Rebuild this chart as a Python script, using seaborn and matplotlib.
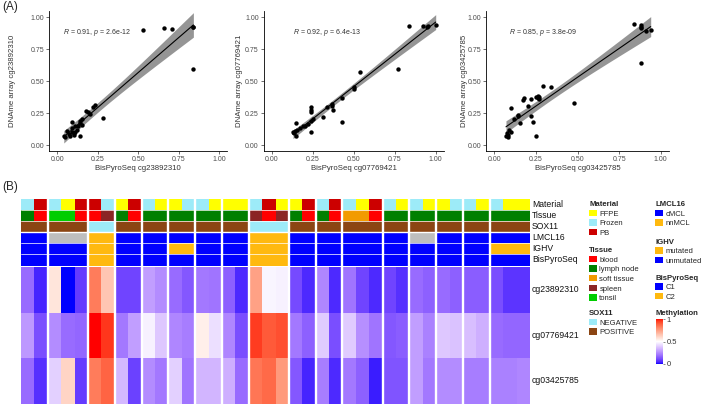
import numpy as np
import pandas as pd
import matplotlib
matplotlib.use("Agg")
import matplotlib.pyplot as plt
import seaborn as sns
from matplotlib.colors import ListedColormap
from matplotlib.patches import Patch

# ---------------- data: scatter panels (A) ----------------
bis_cg23892310 = [0.04, 0.05, 0.06, 0.07, 0.08, 0.09, 0.09, 0.09, 0.10, 0.10, 0.11, 0.11, 0.12, 0.13,
                  0.14, 0.14, 0.14, 0.15, 0.15, 0.18, 0.19, 0.20, 0.22, 0.23, 0.28, 0.53, 0.66, 0.71,
                  0.84, 0.84, 0.84]
arr_cg23892310 = [0.07, 0.06, 0.11, 0.085, 0.07, 0.18, 0.10, 0.135, 0.09, 0.08, 0.148, 0.10, 0.12, 0.15,
                  0.19, 0.17, 0.07, 0.16, 0.20, 0.265, 0.258, 0.24, 0.295, 0.31, 0.21, 0.90, 0.915, 0.905,
                  0.925, 0.918, 0.59]
bis_cg07769421 = [0.13, 0.135, 0.14, 0.15, 0.15, 0.155, 0.17, 0.19, 0.20, 0.22, 0.24, 0.24, 0.24, 0.25,
                  0.24, 0.24, 0.31, 0.335, 0.366, 0.368, 0.372, 0.427, 0.429, 0.50, 0.50, 0.54, 0.77,
                  0.84, 0.92, 0.945, 0.955, 1.00]
arr_cg07769421 = [0.10, 0.09, 0.11, 0.17, 0.07, 0.12, 0.13, 0.15, 0.145, 0.165, 0.30, 0.275, 0.26, 0.20,
                  0.185, 0.10, 0.22, 0.295, 0.32, 0.305, 0.27, 0.18, 0.37, 0.45, 0.44, 0.57, 0.59,
                  0.93, 0.93, 0.92, 0.93, 0.94]
bis_cg03425785 = [0.07, 0.075, 0.08, 0.085, 0.09, 0.10, 0.10, 0.12, 0.14, 0.145, 0.155, 0.17, 0.18,
                  0.20, 0.22, 0.22, 0.23, 0.25, 0.25, 0.26, 0.265, 0.27, 0.27, 0.29, 0.34, 0.48, 0.84,
                  0.88, 0.88, 0.88, 0.88, 0.91, 0.94]
arr_cg03425785 = [0.073, 0.09, 0.08, 0.065, 0.12, 0.10, 0.286, 0.2, 0.235, 0.23, 0.169, 0.354, 0.365,
                  0.305, 0.357, 0.225, 0.182, 0.07, 0.372, 0.365, 0.38, 0.357, 0.375, 0.461, 0.45,
                  0.331, 0.943, 0.94, 0.925, 0.914, 0.638, 0.893, 0.9]
probe_names = ["cg23892310", "cg07769421", "cg03425785"]
cor_R = ["0.91", "0.92", "0.85"]
cor_p = ["2.6e-12", "6.4e-13", "3.8e-09"]

# ---------------- data: heatmap (B) ----------------
group_sizes = [2, 3, 2, 2, 2, 2, 2, 2, 3, 2, 2, 3, 2, 2, 2, 2, 3]
material = ['Frozen', 'PB', 'Frozen', 'FFPE', 'PB', 'PB', 'Frozen', 'FFPE', 'PB', 'Frozen', 'FFPE',
            'FFPE', 'Frozen', 'Frozen', 'FFPE', 'FFPE', 'FFPE', 'Frozen', 'PB', 'FFPE', 'FFPE', 'PB',
            'Frozen', 'PB', 'Frozen', 'FFPE', 'PB', 'Frozen', 'FFPE', 'Frozen', 'FFPE', 'FFPE',
            'Frozen', 'Frozen', 'FFPE', 'Frozen', 'FFPE', 'FFPE']
tissue = ['lymph node', 'blood', 'tonsil', 'tonsil', 'blood', 'blood', 'spleen', 'lymph node', 'blood',
          'lymph node', 'lymph node', 'lymph node', 'lymph node', 'lymph node', 'lymph node',
          'lymph node', 'lymph node', 'spleen', 'blood', 'spleen', 'lymph node', 'blood',
          'lymph node', 'blood', 'soft tissue', 'soft tissue', 'blood'] + ['lymph node'] * 11
sox11 = ['POSITIVE'] * 5 + ['NEGATIVE'] * 2 + ['POSITIVE'] * 10 + ['NEGATIVE'] * 3 + ['POSITIVE'] * 18
lmcl16 = (['cMCL'] * 2 + ['NA'] * 3 + ['nnMCL'] * 2 + ['cMCL'] * 10 + ['nnMCL'] * 3 + ['cMCL'] * 9
          + ['NA'] * 2 + ['cMCL'] * 7)
ighv = (['unmutated'] * 5 + ['mutated'] * 2 + ['unmutated'] * 4 + ['mutated'] * 2 + ['unmutated'] * 4
        + ['mutated'] * 3 + ['unmutated'] * 15 + ['mutated'] * 3)
bispyro = ['C1'] * 5 + ['C2'] * 2 + ['C1'] * 10 + ['C2'] * 3 + ['C1'] * 18

meth_cg23892310 = [0.18, 0.04, 0.57, 0.00, 0.08, 0.83, 0.65, 0.10, 0.10, 0.29, 0.25, 0.18, 0.14, 0.21,
                   0.20, 0.16, 0.05, 0.74, 0.48, 0.47, 0.11, 0.05, 0.24, 0.05, 0.20, 0.10, 0.05, 0.10,
                   0.06, 0.18, 0.16, 0.18, 0.16, 0.15, 0.15, 0.12, 0.07, 0.07]
meth_cg07769421 = [0.28, 0.12, 0.25, 0.18, 0.17, 1.00, 0.96, 0.21, 0.29, 0.47, 0.38, 0.24, 0.22, 0.54,
                   0.43, 0.24, 0.12, 0.95, 0.90, 0.92, 0.21, 0.16, 0.39, 0.12, 0.39, 0.26, 0.20, 0.14,
                   0.15, 0.29, 0.23, 0.38, 0.37, 0.36, 0.33, 0.18, 0.17, 0.17]
meth_cg03425785 = [0.18, 0.06, 0.40, 0.61, 0.08, 0.83, 0.88, 0.35, 0.09, 0.25, 0.21, 0.40, 0.20, 0.34,
                   0.34, 0.33, 0.18, 0.84, 0.87, 0.76, 0.14, 0.04, 0.22, 0.05, 0.21, 0.16, 0.03, 0.13,
                   0.13, 0.29, 0.21, 0.25, 0.25, 0.22, 0.22, 0.23, 0.23, 0.24]

legend_levels = {
    'Material': ['FFPE', 'Frozen', 'PB'],
    'Tissue': ['blood', 'lymph node', 'soft tissue', 'spleen', 'tonsil'],
    'SOX11': ['NEGATIVE', 'POSITIVE'],
    'LMCL16': ['cMCL', 'nnMCL'],
    'IGHV': ['mutated', 'unmutated'],
    'BisPyroSeq': ['C1', 'C2'],
}
level_colors = {
    'Material': ['#FFFF00', '#9DEBF8', '#CC0000'],
    'Tissue': ['#FF0000', '#008000', '#F29B00', '#8B2525', '#00CD00'],
    'SOX11': ['#9DEBF8', '#8B4513'],
    'LMCL16': ['#0000FF', '#FFB90F'],
    'IGHV': ['#FFB90F', '#0000FF'],
    'BisPyroSeq': ['#0000FF', '#FFB90F'],
}
na_color = '#BEBEBE'

# ---------------- styling ----------------
sns.set_theme(style="ticks")
plt.rcParams['font.family'] = ['Liberation Sans', 'DejaVu Sans']
plt.rcParams['mathtext.fontset'] = 'custom'
plt.rcParams['mathtext.rm'] = 'Liberation Sans'
plt.rcParams['mathtext.it'] = 'Liberation Sans:italic'

W, H = 708, 407
fig = plt.figure(figsize=(W / 100, H / 100), dpi=100)


def px_axes(x0, y0, x1, y1):
    return fig.add_axes([x0 / W, 1 - y1 / H, (x1 - x0) / W, (y1 - y0) / H])


# t quantiles (0.975) for the linear-model confidence band
T975 = {29: 2.045, 30: 2.042, 31: 2.040}

# ---------------- (A) scatter panels ----------------
scatter_sets = [(bis_cg23892310, arr_cg23892310), (bis_cg07769421, arr_cg07769421),
                (bis_cg03425785, arr_cg03425785)]
boxes = [(49.2, 10.6, 227.4, 151.4), (263.5, 10.6, 443.9, 151.4), (486.0, 10.6, 669.0, 151.4)]
ylabel_right = [16.5, 243.0, 468.0]
label_x = [0.037, 0.13, 0.09]

for i, ((xs, ys), box) in enumerate(zip(scatter_sets, boxes)):
    ax = px_axes(*box)
    df = pd.DataFrame({'bis': xs, 'arr': ys})
    sns.regplot(data=df, x='bis', y='arr', ax=ax, ci=None,
                scatter_kws=dict(s=10, color='black', linewidths=0, zorder=3, alpha=1),
                line_kws=dict(color='black', lw=0.8, zorder=4))
    # analytic 95% confidence band of the fitted line (as in geom_smooth(method="lm"))
    xv = df['bis'].to_numpy()
    yv = df['arr'].to_numpy()
    n = len(xv)
    b1, b0 = np.polyfit(xv, yv, 1)
    resid = yv - (b0 + b1 * xv)
    s = np.sqrt(np.sum(resid ** 2) / (n - 2))
    grid = np.linspace(xv.min(), xv.max(), 100)
    se = s * np.sqrt(1 / n + (grid - xv.mean()) ** 2 / np.sum((xv - xv.mean()) ** 2))
    fit = b0 + b1 * grid
    tq = T975.get(n - 2, 2.04)
    ax.fill_between(grid, fit - tq * se, fit + tq * se, color='#8a8a8a', alpha=0.9, lw=0, zorder=2)

    ax.set_xlim(-0.05, 1.05)
    ax.set_ylim(-0.05, 1.05)
    ticks = [0, 0.25, 0.5, 0.75, 1.0]
    ax.set_xticks(ticks)
    ax.set_yticks(ticks)
    ax.set_xticklabels([f"{t:.2f}" for t in ticks])
    ax.set_yticklabels([f"{t:.2f}" for t in ticks])
    sns.despine(ax=ax)
    for sp in ['left', 'bottom']:
        ax.spines[sp].set_linewidth(0.6)
        ax.spines[sp].set_color('black')
    ax.tick_params(labelsize=5.0, length=2.2, width=0.5, pad=1.2, labelcolor='#4d4d4d', color='#333333')
    ax.set_xlabel(f"BisPyroSeq {probe_names[i]}", fontsize=5.6, color='#333333')
    ax.set_ylabel(f"DNAme array {probe_names[i]}", fontsize=5.6, color='#333333')
    bw = box[2] - box[0]
    bh = box[3] - box[1]
    ax.xaxis.set_label_coords(0.5, -(165.0 - box[3]) / bh)
    ax.xaxis.label.set_va('top')
    ax.yaxis.set_label_coords((ylabel_right[i] - box[0]) / bw, 0.5)
    ax.text(label_x[i], 0.88, rf"$\it{{R}}$ = {cor_R[i]}, $\it{{p}}$ = {cor_p[i]}",
            fontsize=5.0, ha='left', va='center', color='#333333')

fig.text(2 / W, 1 - 1 / H, "(A)", fontsize=8.5, va='top', ha='left')
fig.text(2 / W, 1 - 181 / H, "(B)", fontsize=8.5, va='top', ha='left')

# ---------------- colormap (LAB interpolation blue-white-red) ----------------
M = np.array([[0.4124, 0.3576, 0.1805], [0.2126, 0.7152, 0.0722], [0.0193, 0.1192, 0.9505]])
WP = np.array([0.95047, 1.0, 1.08883])


def srgb_to_lab(rgb):
    rgb = np.asarray(rgb, float)
    lin = np.where(rgb <= 0.04045, rgb / 12.92, ((rgb + 0.055) / 1.055) ** 2.4)
    xyz = lin @ M.T / WP
    d = 6 / 29
    f = np.where(xyz > d ** 3, np.cbrt(xyz), xyz / (3 * d * d) + 4 / 29)
    return np.stack([116 * f[..., 1] - 16, 500 * (f[..., 0] - f[..., 1]), 200 * (f[..., 1] - f[..., 2])], -1)


def lab_to_srgb(lab):
    fy = (lab[..., 0] + 16) / 116
    fx = fy + lab[..., 1] / 500
    fz = fy - lab[..., 2] / 200
    f = np.stack([fx, fy, fz], -1)
    d = 6 / 29
    xyz = np.where(f > d, f ** 3, 3 * d * d * (f - 4 / 29)) * WP
    lin = np.clip(xyz @ np.linalg.inv(M).T, 0, 1)
    return np.clip(np.where(lin <= 0.0031308, 12.92 * lin, 1.055 * lin ** (1 / 2.4) - 0.055), 0, 1)


anchors = srgb_to_lab(np.array([[0, 0, 1], [1, 1, 1], [1, 0, 0]], float))
tt = np.linspace(0, 1, 256)
labs = []
for t in tt:
    if t <= 0.5:
        u = t / 0.5
        labs.append(anchors[0] * (1 - u) + anchors[1] * u)
    else:
        u = (t - 0.5) / 0.5
        labs.append(anchors[1] * (1 - u) + anchors[2] * u)
cmap_meth = ListedColormap(lab_to_srgb(np.array(labs)))

# ---------------- (B) annotation block ----------------
ann_names = ['Material', 'Tissue', 'SOX11', 'LMCL16', 'IGHV', 'BisPyroSeq']
ann_values = [material, tissue, sox11, lmcl16, ighv, bispyro]
keys, key_colors = [], []
for nm in ann_names:
    for lev, col in zip(legend_levels[nm], level_colors[nm]):
        keys.append((nm, lev))
        key_colors.append(col)
keys.append(('any', 'NA'))
key_colors.append(na_color)


def code_of(nm, v):
    return keys.index(('any', 'NA')) if v == 'NA' else keys.index((nm, v))


codes = pd.DataFrame([[code_of(nm, v) for v in vals] for nm, vals in zip(ann_names, ann_values)],
                     index=ann_names)

x_left, x_right = 21.0, 530.0
ax_ann = px_axes(x_left, 199.0, x_right, 265.5)
sns.heatmap(codes, ax=ax_ann, cmap=ListedColormap(key_colors), vmin=-0.5, vmax=len(keys) - 0.5,
            cbar=False, xticklabels=False, yticklabels=ann_names)
for yb in [1, 2, 4, 5]:
    ax_ann.axhline(yb, color='white', lw=0.6, alpha=0.85)
ax_ann.axhline(3, color='white', lw=1.0)

# ---------------- (B) methylation heatmap ----------------
meth = pd.DataFrame([meth_cg23892310, meth_cg07769421, meth_cg03425785], index=probe_names)
ax_hm = px_axes(x_left, 267.0, x_right, 403.5)
cax = px_axes(656.0, 319.0, 663.0, 364.0)
sns.heatmap(meth, ax=ax_hm, cmap=cmap_meth, vmin=0, vmax=1, xticklabels=False,
            yticklabels=probe_names, cbar_ax=cax, cbar_kws={'ticks': [0, 0.5, 1]})

bounds = np.cumsum(group_sizes)[:-1]
for a in (ax_ann, ax_hm):
    for b in bounds:
        a.axvline(b, color='white', lw=1.7)
    a.yaxis.tick_right()
    a.tick_params(axis='y', length=0, pad=1.5, labelsize=6.2, labelcolor='#111111')
    plt.setp(a.get_yticklabels(), rotation=0, va='center')
    a.set_xlabel('')
    a.set_ylabel('')

cax.tick_params(labelsize=5.5, length=1.5, width=0.4, pad=1, colors='#333333')
cax.set_yticklabels(['0', '0.5', '1'])
for sp in cax.spines.values():
    sp.set_visible(False)
cax.set_title('Methylation', loc='left', fontsize=5.6, fontweight='bold', pad=3)

# ---------------- legends ----------------
legend_pos = {'Material': (589, 201.0), 'Tissue': (589, 247.0), 'SOX11': (589, 310.0),
              'LMCL16': (655, 201.0), 'IGHV': (655, 238.5), 'BisPyroSeq': (655, 274.5)}
for nm in ann_names:
    handles = [Patch(facecolor=c, edgecolor='none') for c in level_colors[nm]]
    x, y = legend_pos[nm]
    fig.legend(handles, legend_levels[nm], title=nm, loc='upper left',
               bbox_to_anchor=(x / W, 1 - y / H), frameon=False, fontsize=5.5,
               title_fontproperties={'weight': 'bold', 'size': 5.6}, alignment='left',
               handlelength=1.05, handleheight=0.9, handletextpad=0.3, labelspacing=0.24,
               borderpad=0, borderaxespad=0)

fig.savefig("out.png", dpi=100)
